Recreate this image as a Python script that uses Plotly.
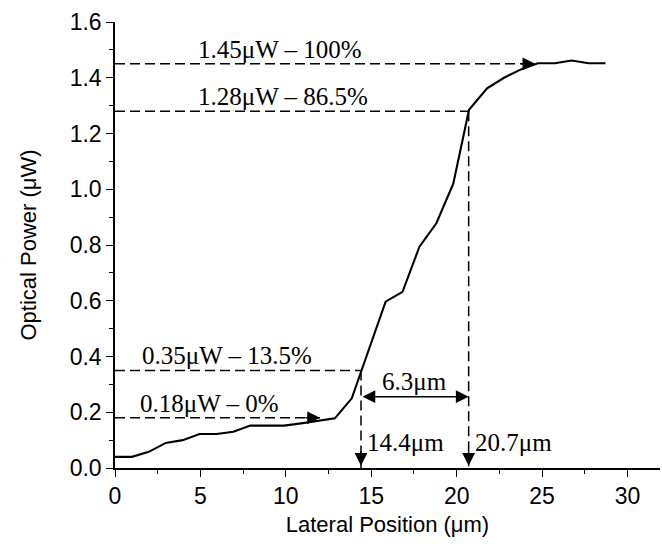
import plotly.graph_objects as go

x_pos = [0.0, 0.99, 1.98, 2.97, 3.96, 4.95, 5.94, 6.93, 7.92, 8.91, 9.9, 10.89, 11.88, 12.87,
         13.86, 14.85, 15.84, 16.83, 17.82, 18.81, 19.8, 20.72, 21.78, 22.77, 23.76, 24.75,
         25.74, 26.73, 27.72, 28.71]
power = [0.04, 0.04, 0.058, 0.09, 0.10, 0.122, 0.122, 0.13, 0.152, 0.152, 0.152, 0.16, 0.17, 0.178,
         0.25, 0.42, 0.597, 0.632, 0.794, 0.878, 1.02, 1.285, 1.362, 1.40, 1.43, 1.452,
         1.452, 1.462, 1.452, 1.452]

# Annotation levels
levels = [1.45, 1.28, 0.35, 0.18]
level_labels = ["1.45μW – 100%", "1.28μW – 86.5%", "0.35μW – 13.5%", "0.18μW – 0%"]
level_text_x = [4.75, 4.75, 1.45, 1.35]
level_end_x = [24.6, 20.7, 14.4, 12.0]
x_marks = [14.4, 20.7]
x_mark_labels = ["14.4μm", "20.7μm"]
width_label = "6.3μm"
width_y = 0.256

serif = "Liberation Serif, Times New Roman, serif"
sans = "Liberation Sans, Arial, sans-serif"

fig = go.Figure()
fig.add_trace(go.Scatter(x=x_pos, y=power, mode="lines",
                         line=dict(color="black", width=2.1), showlegend=False,
                         hoverinfo="skip"))

dash = "10px,5px"
shapes = []
for lv, xe in zip(levels, level_end_x):
    shapes.append(dict(type="line", xref="x", yref="y", x0=0, x1=xe, y0=lv, y1=lv,
                       line=dict(color="black", width=1.5, dash=dash)))
# vertical dashed lines
shapes.append(dict(type="line", xref="x", yref="y", x0=x_marks[0], x1=x_marks[0], y0=levels[2], y1=0,
                   line=dict(color="black", width=1.5, dash=dash)))
shapes.append(dict(type="line", xref="x", yref="y", x0=x_marks[1], x1=x_marks[1], y0=levels[1], y1=0,
                   line=dict(color="black", width=1.5, dash=dash)))

ann = []
for lab, lv, tx in zip(level_labels, levels, level_text_x):
    ann.append(dict(x=tx, y=lv, xref="x", yref="y", text=lab, showarrow=False,
                    xanchor="left", yanchor="bottom", yshift=-1,
                    font=dict(family=serif, size=25, color="black")))
# arrowheads on horizontal lines
for lv, xe in [(levels[0], level_end_x[0]), (levels[3], level_end_x[3])]:
    ann.append(dict(x=xe, y=lv, xref="x", yref="y", ax=-16, ay=0, text="", showarrow=True,
                    arrowhead=2, arrowsize=1.7, arrowwidth=1.5, arrowcolor="black", standoff=0))
# arrowheads at the axis
for xm in x_marks:
    ann.append(dict(x=xm, y=0.008, xref="x", yref="y", ax=0, ay=-16, text="", showarrow=True,
                    arrowhead=2, arrowsize=1.7, arrowwidth=1.5, arrowcolor="black", standoff=0))
# double arrow
ann.append(dict(x=x_marks[1], y=width_y, ax=x_marks[0], ay=width_y, xref="x", yref="y",
                axref="x", ayref="y", text="", showarrow=True, arrowside="end+start",
                arrowhead=2, startarrowhead=2, arrowsize=1.7, startarrowsize=1.7,
                arrowwidth=1.5, arrowcolor="black", standoff=0, startstandoff=0))
ann.append(dict(x=(x_marks[0] + x_marks[1]) / 2, y=width_y, xref="x", yref="y", text=width_label,
                showarrow=False, xanchor="center", yanchor="bottom", yshift=0,
                font=dict(family=serif, size=25, color="black")))
for xm, lab in zip(x_marks, x_mark_labels):
    ann.append(dict(x=xm, y=0.09, xref="x", yref="y", text=lab, showarrow=False,
                    xanchor="left", yanchor="middle", xshift=4,
                    font=dict(family=serif, size=25, color="black")))

fig.update_layout(
    width=662, height=548,
    margin=dict(l=115, r=2, t=22, b=80),
    plot_bgcolor="white", paper_bgcolor="white",
    shapes=shapes, annotations=ann,
    xaxis=dict(range=[0, 31.9], tickvals=[0, 5, 10, 15, 20, 25, 30], showgrid=False, zeroline=False,
               showline=True, linecolor="black", linewidth=1.5,
               ticks="outside", ticklen=7, tickwidth=1.2, tickcolor="black",
               minor=dict(ticks="outside", ticklen=4, tickwidth=1.2, tickcolor="black", dtick=2.5, tick0=0),
               tickfont=dict(family=sans, size=23, color="black"),
               title=dict(text="Lateral Position (μm)", font=dict(family=sans, size=22, color="black"), standoff=8)),
    yaxis=dict(range=[0, 1.6], tickvals=[0, 0.2, 0.4, 0.6, 0.8, 1.0, 1.2, 1.4, 1.6], tickformat=".1f",
               showgrid=False, zeroline=False,
               showline=True, linecolor="black", linewidth=1.5,
               ticks="outside", ticklen=7, tickwidth=1.2, tickcolor="black",
               minor=dict(ticks="outside", ticklen=4, tickwidth=1.2, tickcolor="black", dtick=0.1, tick0=0),
               tickfont=dict(family=sans, size=23, color="black"),
               title=dict(text="Optical Power (μW)", font=dict(family=sans, size=22, color="black"), standoff=27)),
)

fig.write_html("out.html")
